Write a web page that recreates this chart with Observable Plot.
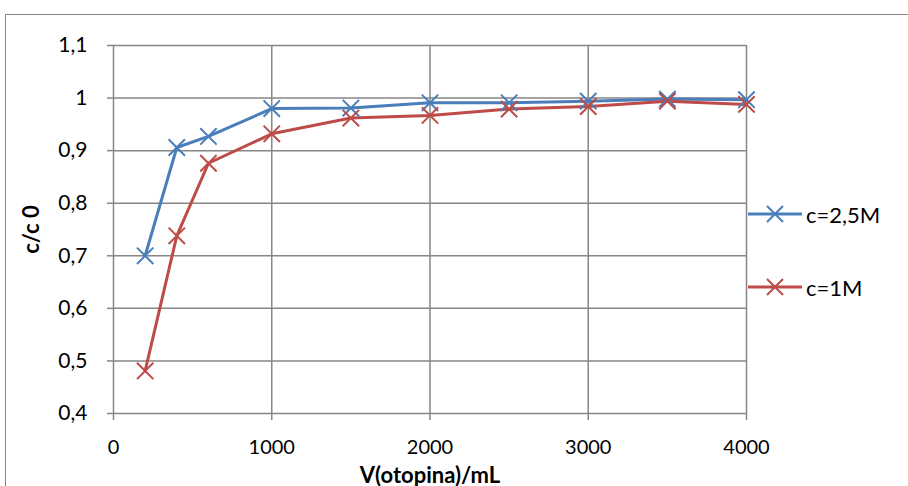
<!DOCTYPE html>
<html>
<head>
<meta charset="utf-8">
<script src="https://cdn.jsdelivr.net/npm/d3@7"></script>
<script src="https://cdn.jsdelivr.net/npm/@observablehq/plot@0.6"></script>
<style>
  html, body { margin: 0; padding: 0; background: #fff; }
  #wrap { position: relative; width: 908px; height: 486px; overflow: hidden; font-family: Lato, "Open Sans", sans-serif; }
  #frame { position: absolute; left: 5px; top: 14px; width: 1000px; height: 1000px; border: 1.5px solid #868686; box-sizing: border-box; }
  #chart { position: absolute; left: 0; top: 0; }
  #legend { position: absolute; left: 747px; top: 201px; font-size: 22px; color: #000; }
  .item { display: flex; align-items: center; height: 26px; margin-bottom: 47px; }
  .item svg { margin-right: 3px; }
</style>
</head>
<body>
<div id="wrap">
  <div id="frame"></div>
  <div id="chart"></div>
  <div id="legend"></div>
</div>
<script>
const volumes = [200, 400, 600, 1000, 1500, 2000, 2500, 3000, 3500, 4000];
const seriesNames = ["c=2,5M", "c=1M"];
const valuesHigh = [0.700, 0.906, 0.927, 0.980, 0.981, 0.991, 0.991, 0.994, 0.998, 0.997];
const valuesLow = [0.481, 0.738, 0.876, 0.932, 0.962, 0.967, 0.979, 0.984, 0.994, 0.988];
const colors = ["#4A7EBB", "#BE4B48"];
const xTicks = [0, 1000, 2000, 3000, 4000];
const yTicks = [0.4, 0.5, 0.6, 0.7, 0.8, 0.9, 1.0, 1.1];

const data = [];
[valuesHigh, valuesLow].forEach((vals, s) => {
  vals.forEach((v, i) => data.push({series: seriesNames[s], x: volumes[i], y: v}));
});

const fmt = d => String(+d.toFixed(1)).replace(".", ",");

const plot = Plot.plot({
  width: 908,
  height: 486,
  marginLeft: 113,
  marginRight: 162,
  marginTop: 45,
  marginBottom: 73,
  style: { fontFamily: "Lato, 'Open Sans', sans-serif", fontSize: "21px", background: "transparent", color: "#000" },
  x: { domain: [0, 4000], ticks: xTicks },
  y: { domain: [0.4, 1.1], ticks: yTicks },
  color: { domain: seriesNames, range: colors },
  marks: [
    Plot.gridY(yTicks, { stroke: "#868686", strokeOpacity: 1, strokeWidth: 1.5 }),
    Plot.gridX(xTicks, { stroke: "#868686", strokeOpacity: 1, strokeWidth: 1.5 }),
    Plot.axisX(xTicks, { tickSize: 7, tickPadding: 19, stroke: "#868686", strokeWidth: 1.5, tickFormat: d => String(d),
      label: "V(otopina)/mL", labelAnchor: "center", labelArrow: "none", labelOffset: 69, fontSize: 20 }),
    Plot.axisY(yTicks, { tickSize: 6, tickPadding: 20, stroke: "#868686", strokeWidth: 1.5, tickFormat: fmt,
      label: "c/c 0", labelAnchor: "center", labelArrow: "none", labelOffset: 90, fontSize: 21 }),
    Plot.line(data, { x: "x", y: "y", z: "series", stroke: "series", strokeWidth: 3 }),
    Plot.dot(data, { x: "x", y: "y", stroke: "series", symbol: "times", r: 7.5, strokeWidth: 2 })
  ]
});

// bold axis labels
plot.querySelectorAll("[aria-label='x-axis label'] text, [aria-label='y-axis label'] text").forEach(t => {
  t.setAttribute("font-weight", "bold");
  t.setAttribute("font-size", "22px");
});

document.getElementById("chart").appendChild(plot);

const legend = document.getElementById("legend");
seriesNames.forEach((name, i) => {
  const item = document.createElement("div");
  item.className = "item";
  const ns = "http://www.w3.org/2000/svg";
  const svg = document.createElementNS(ns, "svg");
  svg.setAttribute("width", 56);
  svg.setAttribute("height", 24);
  const line = document.createElementNS(ns, "line");
  line.setAttribute("x1", 1); line.setAttribute("x2", 55);
  line.setAttribute("y1", 12); line.setAttribute("y2", 12);
  line.setAttribute("stroke", colors[i]); line.setAttribute("stroke-width", 3);
  svg.appendChild(line);
  const p = document.createElementNS(ns, "path");
  p.setAttribute("d", "M20,4L36,20M36,4L20,20");
  p.setAttribute("stroke", colors[i]); p.setAttribute("stroke-width", 2);
  svg.appendChild(p);
  item.appendChild(svg);
  const span = document.createElement("span");
  span.textContent = name;
  item.appendChild(span);
  legend.appendChild(item);
});
</script>
</body>
</html>
